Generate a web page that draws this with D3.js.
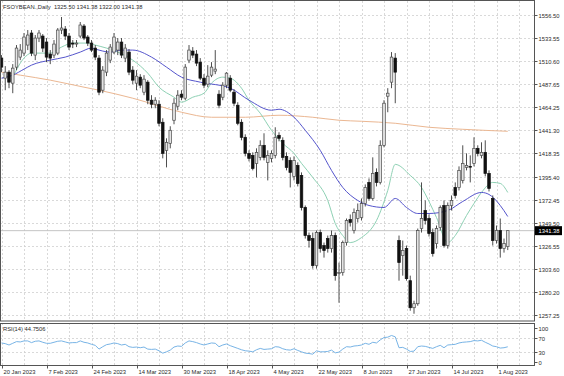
<!DOCTYPE html>
<html>
<head>
<meta charset="utf-8">
<script src="https://cdn.jsdelivr.net/npm/d3@7"></script>
<style>
  html, body { margin: 0; padding: 0; background: #fff; }
  svg { display: block; font-family: "Liberation Sans", Arial, sans-serif; }
</style>
</head>
<body>
<div id="chart"></div>
<script>
// FSOYBEAN daily, 20 Jan 2023 .. 4 Aug 2023
const symbol = "FSOYBEAN.,Daily";

// [open, high, low, close]
const candles = [
  [1513.5,1516.5,1499.5,1504.5],[1493.5,1505.5,1481.5,1499.5],[1499.5,1501.5,1483.5,1489.5],[1488.5,1507.5,1478.5,1503.5],
  [1504.5,1526.5,1501.5,1523.5],[1514.5,1527.5,1511.5,1521.5],[1518.5,1538.5,1515.5,1534.5],[1526.5,1541.5,1521.5,1536.5],
  [1538.5,1541.5,1515.5,1518.5],[1516.5,1536.5,1511.5,1533.5],[1533.5,1541.5,1529.5,1538.5],[1535.5,1537.5,1519.5,1523.5],
  [1529.5,1533.5,1509.5,1514.5],[1517.5,1521.5,1507.5,1513.5],[1516.5,1531.5,1513.5,1527.5],[1518.5,1543.5,1516.5,1541.5],
  [1541.5,1554.5,1537.5,1543.5],[1542.5,1545.5,1531.5,1535.5],[1535.5,1538.5,1521.5,1524.5],[1528.5,1531.5,1523.5,1527.5],
  [1527.5,1531.5,1524.5,1528.5],[1535.5,1549.5,1533.5,1546.5],[1545.5,1547.5,1531.5,1533.5],[1534.5,1536.5,1525.5,1528.5],
  [1528.5,1531.5,1519.5,1521.5],[1523.5,1526.5,1511.5,1514.5],[1513.5,1516.5,1476.5,1479.5],[1481.5,1505.5,1478.5,1501.5],
  [1499.5,1521.5,1495.5,1518.5],[1511.5,1527.5,1508.5,1524.5],[1519.5,1538.5,1517.5,1534.5],[1521.5,1533.5,1516.5,1529.5],
  [1529.5,1533.5,1513.5,1516.5],[1513.5,1527.5,1509.5,1523.5],[1519.5,1522.5,1496.5,1499.5],[1501.5,1505.5,1487.5,1491.5],
  [1488.5,1501.5,1481.5,1495.5],[1494.5,1497.5,1483.5,1486.5],[1479.5,1496.5,1476.5,1492.5],[1489.5,1491.5,1467.5,1471.5],
  [1471.5,1476.5,1463.5,1467.5],[1467.5,1474.5,1463.5,1471.5],[1467.5,1471.5,1445.5,1448.5],[1449.5,1453.5,1413.5,1418.5],
  [1421.5,1433.5,1404.5,1429.5],[1428.5,1445.5,1423.5,1441.5],[1451.5,1473.5,1447.5,1468.5],[1465.5,1481.5,1461.5,1476.5],
  [1477.5,1481.5,1471.5,1474.5],[1473.5,1507.5,1471.5,1504.5],[1511.5,1526.5,1508.5,1521.5],[1520.5,1524.5,1513.5,1516.5],
  [1517.5,1521.5,1505.5,1508.5],[1509.5,1513.5,1491.5,1493.5],[1493.5,1497.5,1483.5,1486.5],[1487.5,1506.5,1484.5,1495.5],
  [1496.5,1509.5,1494.5,1504.5],[1500.5,1521.5,1497.5,1502.5],[1477.5,1481.5,1463.5,1466.5],[1474.5,1489.5,1471.5,1486.5],
  [1486.5,1499.5,1483.5,1498.5],[1493.5,1496.5,1479.5,1481.5],[1479.5,1482.5,1465.5,1468.5],[1466.5,1469.5,1446.5,1448.5],
  [1449.5,1452.5,1431.5,1434.5],[1434.5,1437.5,1415.5,1418.5],[1418.5,1421.5,1410.5,1413.5],[1416.5,1419.5,1401.5,1403.5],
  [1408.5,1423.5,1394.5,1419.5],[1414.5,1431.5,1411.5,1426.5],[1426.5,1438.5,1411.5,1414.5],[1409.5,1421.5,1391.5,1416.5],
  [1413.5,1421.5,1409.5,1418.5],[1416.5,1444.5,1413.5,1434.5],[1436.5,1439.5,1430.5,1433.5],[1431.5,1434.5,1411.5,1414.5],
  [1415.5,1419.5,1401.5,1404.5],[1411.5,1414.5,1384.5,1399.5],[1395.5,1415.5,1391.5,1411.5],[1406.5,1409.5,1385.5,1388.5],
  [1396.5,1399.5,1361.5,1364.5],[1364.5,1366.5,1333.5,1336.5],[1336.5,1339.5,1324.5,1331.5],[1333.5,1339.5,1303.5,1306.5],
  [1306.5,1341.5,1303.5,1339.5],[1339.5,1342.5,1319.5,1323.5],[1326.5,1329.5,1314.5,1321.5],[1333.5,1336.5,1319.5,1323.5],
  [1323.5,1341.5,1319.5,1336.5],[1336.5,1339.5,1291.5,1296.5],[1298.5,1309.5,1269.5,1299.5],[1299.5,1331.5,1296.5,1329.5],
  [1329.5,1353.5,1326.5,1351.5],[1352.5,1357.5,1345.5,1349.5],[1341.5,1363.5,1338.5,1359.5],[1353.5,1368.5,1349.5,1361.5],
  [1354.5,1373.5,1351.5,1368.5],[1368.5,1387.5,1365.5,1384.5],[1389.5,1393.5,1371.5,1373.5],[1373.5,1414.5,1371.5,1398.5],
  [1399.5,1403.5,1385.5,1389.5],[1389.5,1431.5,1387.5,1426.5],[1426.5,1471.5,1424.5,1468.5],[1475.5,1483.5,1459.5,1478.5],
  [1489.5,1519.5,1483.5,1514.5],[1513.5,1518.5,1468.5,1499.5],[1331.5,1336.5,1291.5,1309.5],[1316.5,1331.5,1296.5,1321.5],
  [1323.5,1326.5,1291.5,1293.5],[1291.5,1296.5,1261.5,1264.5],[1264.5,1271.5,1258.5,1268.5],[1268.5,1343.5,1266.5,1341.5],
  [1343.5,1389.5,1339.5,1353.5],[1361.5,1371.5,1347.5,1351.5],[1353.5,1357.5,1335.5,1338.5],[1339.5,1343.5,1315.5,1318.5],
  [1328.5,1346.5,1323.5,1343.5],[1344.5,1366.5,1341.5,1364.5],[1366.5,1371.5,1324.5,1326.5],[1326.5,1369.5,1323.5,1366.5],
  [1366.5,1376.5,1361.5,1371.5],[1384.5,1389.5,1373.5,1376.5],[1384.5,1405.5,1381.5,1401.5],[1391.5,1426.5,1388.5,1408.5],
  [1404.5,1418.5,1401.5,1406.5],[1405.5,1416.5,1389.5,1405],[1408.5,1434.5,1405.5,1423.5],[1423.5,1426.5,1415.5,1418.5],
  [1416.5,1429.5,1413.5,1419.5],[1419.5,1431.5,1395.5,1398.5],[1398.5,1401.5,1380.5,1383.5],[1373.5,1376.5,1326.5,1331.5],
  [1331.5,1346.5,1328.5,1341.5],[1341.5,1353.5,1314.5,1323.5],[1323.5,1333.5,1319.5,1328.5],[1325.5,1341.38,1322.0,1341.38]
];

// moving averages, [bar index, value]
const maGreen = [
  [3,1494.5],[6,1513.5],[8,1518.5],[13,1518.5],[16,1524.5],[19,1528.5],[23,1528.5],[25,1526.5],[28,1523.5],
  [31,1519.5],[35,1511.5],[39,1498.5],[42,1484.5],[46,1474.5],[48,1469.5],[51,1474.5],[54,1478.5],[56,1488.5],
  [59,1494.5],[61,1493.5],[64,1483.5],[66,1471.5],[69,1458.5],[72,1441.5],[75,1428.5],[78,1418.5],[80,1408.5],
  [83,1394.5],[87,1371.5],[89,1348.5],[91,1336.5],[93,1329.5],[96,1334.5],[100,1351.5],[103,1381.5],[105,1407.5],
  [109,1396.5],[112,1384.5],[114,1370.5],[116,1354.5],[119,1329.5],[121,1336.5],[124,1356.5],[126,1368.5],
  [128,1379.5],[131,1389.5],[133,1388.5],[135,1379.5]
];
const maBlue = [
  [0,1493.5],[3,1496.5],[6,1502.5],[8,1506.5],[13,1511.5],[17,1514.5],[21,1519.5],[24,1523.5],[25,1522.5],
  [29,1519.5],[32,1521.5],[35,1521.5],[40,1514.5],[44,1504.5],[48,1494.5],[53,1489.5],[61,1483.5],[66,1471.5],
  [72,1461.5],[74,1462.5],[78,1454.5],[81,1441.5],[85,1421.5],[88,1401.5],[91,1384.5],[95,1371.5],[98,1366.5],
  [102,1364.5],[105,1373.5],[108,1364.5],[111,1358.5],[114,1358.5],[119,1361.5],[123,1370.5],[128,1379.5],
  [130,1377.5],[133,1366.5],[135,1355.5]
];
const maOrange = [
  [0,1499.5],[5,1496.5],[13,1491.5],[22,1484.5],[26,1481.5],[35,1473.5],[48,1459.5],[56,1454.5],[65,1454.5],
  [74,1456.5],[83,1454.5],[90,1451.5],[96,1450.5],[105,1448.5],[114,1444.5],[123,1442.5],[135,1440.5]
];

// RSI(14), one value per bar
const rsi = [
  56,54,50,55,60,59,62,62,57,61, 62,58,55,55,58,61,62,59,56,57,
  57,62,58,56,52,49,38,45,51,53, 56,54,50,52,45,43,44,42,44,38,
  37,38,33,26,30,35,44,47,46,56, 62,60,57,53,50,53,56,55,45,50,
  53,48,44,40,36,33,32,30,36,40, 37,38,39,45,44,39,36,35,39,34,
  30,26,25,23,33,30,30,31,35,27, 29,38,45,44,47,48,50,55,52,58,
  56,65,72,73,78,74,42,43,38,31, 32,45,47,46,43,40,45,49,42,50,
  51,52,56,58,59,60,63,62,64,58, 53,47,45,41,42,44.75
];
const rsiText = "44.7506";

const priceTicks = [1556.50,1533.55,1510.60,1487.65,1464.25,1441.30,1418.35,1395.40,1372.45,1349.50,1326.55,1303.60,1280.20,1257.25];
const rsiTicks = [100, 70, 30, 0];
const rsiLevels = [70, 30];
const dateLabels = ["20 Jan 2023","7 Feb 2023","24 Feb 2023","14 Mar 2023","30 Mar 2023","18 Apr 2023",
  "4 May 2023","22 May 2023","8 Jun 2023","27 Jun 2023","14 Jul 2023","1 Aug 2023"];

function drawChart(containerId = "chart") {
    const W = 564, H = 376;
    const plotRight = 534;
    const main = { top: 1, bottom: 321 };
    const sub = { top: 323, bottom: 365 };
    const fs = 5.8;
    const gridColor = "#cfcfcf";
    const textColor = "#2a2a2a";

    const svg = d3.select(`#${containerId}`).append("svg")
        .attr("width", W).attr("height", H);

    const n = candles.length;
    const x = d3.scaleLinear().domain([0, n - 1]).range([1.5, 507.75]);
    const y = d3.scaleLinear().domain([1257.25, 1556.5]).range([315, 15]);
    const yr = d3.scaleLinear().domain([0, 100]).range([362, 328]);

    // clip areas
    const defs = svg.append("defs");
    defs.append("clipPath").attr("id", "clipMain").append("rect")
        .attr("x", 0).attr("y", main.top).attr("width", plotRight).attr("height", main.bottom - main.top);
    defs.append("clipPath").attr("id", "clipSub").append("rect")
        .attr("x", 0).attr("y", sub.top).attr("width", plotRight).attr("height", sub.bottom - sub.top);

    // vertical grid every 6 bars
    const gridBars = d3.range(0, 140, 6);
    [[main.top, main.bottom], [sub.top, sub.bottom]].forEach(([t, b]) => {
        svg.append("g").selectAll("line").data(gridBars).join("line")
            .attr("x1", d => Math.round(x(d)) + 0.5).attr("x2", d => Math.round(x(d)) + 0.5)
            .attr("y1", t).attr("y2", b)
            .attr("stroke", gridColor).attr("stroke-width", 0.8).attr("stroke-dasharray", "2,2");
    });

    // horizontal grid at price ticks
    svg.append("g").selectAll("line").data(priceTicks).join("line")
        .attr("x1", 0).attr("x2", plotRight)
        .attr("y1", d => Math.round(y(d)) + 0.5).attr("y2", d => Math.round(y(d)) + 0.5)
        .attr("stroke", gridColor).attr("stroke-width", 0.8).attr("stroke-dasharray", "2,2");

    // RSI levels
    svg.append("g").selectAll("line").data(rsiLevels).join("line")
        .attr("x1", 0).attr("x2", plotRight)
        .attr("y1", d => Math.round(yr(d)) + 0.5).attr("y2", d => Math.round(yr(d)) + 0.5)
        .attr("stroke", gridColor).attr("stroke-width", 0.8).attr("stroke-dasharray", "2,2");

    // bid line
    const last = candles[n - 1][3];
    svg.append("line")
        .attr("x1", 0).attr("x2", plotRight)
        .attr("y1", y(last)).attr("y2", y(last))
        .attr("stroke", "#c4c4c4").attr("stroke-width", 1);

    const gMain = svg.append("g").attr("clip-path", "url(#clipMain)");

    // moving averages
    const maLine = d3.line().x(d => x(d[0])).y(d => y(d[1])).curve(d3.curveMonotoneX);
    [[maOrange, "#ebb792"], [maGreen, "#8ed1b4"], [maBlue, "#5555cc"]].forEach(([data, col]) => {
        gMain.append("path").datum(data)
            .attr("d", maLine)
            .attr("fill", "none").attr("stroke", col).attr("stroke-width", 1);
    });

    // candles
    const bodyW = 2.6;
    const cg = gMain.append("g").selectAll("g").data(candles).join("g");
    cg.append("line")
        .attr("x1", (d, i) => x(i)).attr("x2", (d, i) => x(i))
        .attr("y1", d => y(d[1])).attr("y2", d => y(d[2]))
        .attr("stroke", "#3a3a3a").attr("stroke-width", 0.9);
    cg.append("rect")
        .attr("x", (d, i) => x(i) - bodyW / 2)
        .attr("width", bodyW)
        .attr("y", d => y(Math.max(d[0], d[3])))
        .attr("height", d => Math.max(0.8, Math.abs(y(d[0]) - y(d[3]))))
        .attr("fill", d => d[3] >= d[0] ? "#e4e4e4" : "#111")
        .attr("stroke", d => d[3] >= d[0] ? "#4a4a4a" : "#111")
        .attr("stroke-width", 0.7);

    // RSI line
    svg.append("g").attr("clip-path", "url(#clipSub)").append("path")
        .datum(rsi)
        .attr("d", d3.line().x((d, i) => x(i)).y(d => yr(d)))
        .attr("fill", "none").attr("stroke", "#78b4e6").attr("stroke-width", 1);

    // frames
    svg.append("rect").attr("x", 0.5).attr("y", main.top - 0.5)
        .attr("width", plotRight).attr("height", main.bottom - main.top + 0.5)
        .attr("fill", "none").attr("stroke", "#555").attr("stroke-width", 1);
    svg.append("rect").attr("x", 0.5).attr("y", sub.top + 0.5)
        .attr("width", plotRight).attr("height", sub.bottom - sub.top)
        .attr("fill", "none").attr("stroke", "#555").attr("stroke-width", 1);

    // price axis
    const pa = svg.append("g").attr("font-size", fs).attr("fill", textColor);
    const pt = pa.selectAll("g").data(priceTicks).join("g")
        .attr("transform", d => `translate(${plotRight + 0.5},${Math.round(y(d)) + 0.5})`);
    pt.append("line").attr("x1", 0).attr("x2", 3).attr("stroke", "#555");
    pt.append("text").attr("x", 4).attr("dy", "0.35em").text(d => d3.format(".2f")(d));

    // current price tag
    const tag = svg.append("g").attr("transform", `translate(${plotRight + 1},${y(last)})`);
    tag.append("rect").attr("x", 0).attr("y", -4.5).attr("width", 27).attr("height", 9).attr("fill", "#000");
    tag.append("text").attr("x", 3.5).attr("dy", "0.35em").attr("font-size", fs)
        .attr("fill", "#fff").text(d3.format(".2f")(last));

    // RSI axis
    const ra = svg.append("g").attr("font-size", fs).attr("fill", textColor);
    const rt = ra.selectAll("g").data(rsiTicks).join("g")
        .attr("transform", d => `translate(${plotRight + 0.5},${Math.round(yr(d)) + 0.5})`);
    rt.append("line").attr("x1", 0).attr("x2", 3).attr("stroke", "#555");
    rt.append("text").attr("x", 4).attr("dy", "0.35em").text(d => d);

    // date axis
    const da = svg.append("g").attr("font-size", fs).attr("fill", textColor);
    const dt = da.selectAll("g").data(dateLabels).join("g")
        .attr("transform", (d, i) => `translate(${Math.round(x(i * 12)) + 0.5},${sub.bottom + 0.5})`);
    dt.append("line").attr("y1", 0).attr("y2", 3).attr("stroke", "#555");
    dt.append("text").attr("x", 1).attr("y", 8).text(d => d);

    // headers
    const o = candles[n - 1];
    svg.append("text").attr("x", 3).attr("y", 8.5).attr("font-size", fs).attr("fill", textColor)
        .attr("xml:space", "preserve")
        .text(`${symbol}  ${o.map(v => d3.format(".2f")(v)).join(" ")}`);
    svg.append("text").attr("x", 3).attr("y", sub.top + 8).attr("font-size", fs).attr("fill", textColor)
        .text(`RSI(14) ${rsiText}`);
}

drawChart();
</script>
</body>
</html>
